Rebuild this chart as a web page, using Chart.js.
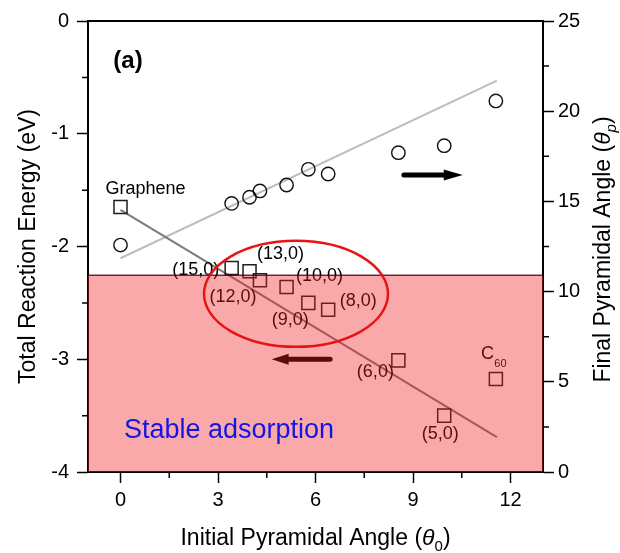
<!DOCTYPE html>
<html>
<head>
<meta charset="utf-8">
<script src="https://cdn.jsdelivr.net/npm/chart.js@4.4.1/dist/chart.umd.min.js"></script>
<style>
  html, body { margin: 0; padding: 0; background: #fff; }
  #wrap { width: 620px; height: 553px; }
</style>
</head>
<body>
<div id="wrap"><canvas id="chart" width="620" height="553"></canvas></div>
<script>
// Systems studied: graphene, zigzag (n,0) nanotubes and C60
const systems = ['Graphene', '(15,0)', '(13,0)', '(12,0)', '(10,0)', '(9,0)', '(8,0)', '(6,0)', '(5,0)', 'C60'];
// Initial pyramidal angle of the carbon site (degrees)
const initialAngle = [0, 3.42, 3.97, 4.29, 5.11, 5.78, 6.39, 8.55, 9.96, 11.55];
// Total reaction energy (eV), left axis
const reactionEnergy = [-1.65, -2.19, -2.22, -2.30, -2.36, -2.50, -2.56, -3.01, -3.50, -3.175];
// Final pyramidal angle after adsorption (degrees), right axis
const finalAngle = [12.58, 14.89, 15.23, 15.58, 15.91, 16.78, 16.52, 17.70, 18.09, 20.57];

// Linear fits (end points)
const fitRange = [0, 11.58];
const energyFit = [-1.676, -3.69];
const angleFit = [11.85, 21.7];

// Axis ticks
const xTicks = [0, 3, 6, 9, 12];
const xMinorTicks = [1.5, 4.5, 7.5, 10.5];
const energyTicks = [-4, -3, -2, -1, 0];
const energyMinorTicks = [-3.5, -2.5, -1.5, -0.5];
const angleTicks = [0, 5, 10, 15, 20, 25];
const angleMinorTicks = [2.5, 7.5, 12.5, 17.5, 22.5];

// Energy below which adsorption is stable (eV)
const stableLimit = -2.25;

const FONT = "'Liberation Sans', Arial, Helvetica, sans-serif";
Chart.defaults.font.family = FONT;
Chart.defaults.color = '#000';

const toXY = (xs, ys) => xs.map((v, i) => ({ x: v, y: ys[i] }));

// label offsets in px from each square marker
const labelOffsets = {
  'Graphene': [25, -18], '(15,0)': [-36, 2], '(13,0)': [31, -17], '(12,0)': [-27, 17],
  '(10,0)': [33, -11], '(9,0)': [-18, 17], '(8,0)': [30, -9], '(6,0)': [-23, 12], '(5,0)': [-4, 18]
};

function arrow(ctx, x0, y0, x1, color, shaft, headLen, headHalf) {
  const dir = Math.sign(x1 - x0);
  ctx.strokeStyle = color; ctx.fillStyle = color;
  ctx.lineWidth = shaft; ctx.lineCap = 'round';
  ctx.beginPath(); ctx.moveTo(x0, y0); ctx.lineTo(x1 - dir * headLen, y0); ctx.stroke();
  ctx.beginPath();
  ctx.moveTo(x1, y0);
  ctx.lineTo(x1 - dir * headLen, y0 - headHalf);
  ctx.lineTo(x1 - dir * headLen, y0 + headHalf);
  ctx.closePath(); ctx.fill();
}

function richText(ctx, parts, cx, cy, rot) {
  ctx.save();
  ctx.translate(cx, cy); ctx.rotate(rot);
  ctx.textAlign = 'left'; ctx.textBaseline = 'alphabetic'; ctx.fillStyle = '#000';
  let w = 0;
  parts.forEach(p => { ctx.font = p.font; p.w = ctx.measureText(p.t).width; w += p.w; });
  let x = -w / 2;
  parts.forEach(p => { ctx.font = p.font; ctx.fillText(p.t, x, 8 + (p.dy || 0)); x += p.w; });
  ctx.restore();
}

const annotations = {
  id: 'annotations',
  afterDatasetsDraw(chart) {
    const { ctx, chartArea: a, scales: { x, y, y2 } } = chart;
    ctx.save();
    // point labels
    ctx.fillStyle = '#000';
    ctx.font = '18px ' + FONT;
    ctx.textAlign = 'center'; ctx.textBaseline = 'middle';
    systems.forEach((name, i) => {
      const px = x.getPixelForValue(initialAngle[i]);
      const py = y.getPixelForValue(reactionEnergy[i]);
      if (name === 'C60') {
        ctx.textAlign = 'left'; ctx.textBaseline = 'alphabetic';
        ctx.font = '18px ' + FONT;
        const cw = ctx.measureText('C').width;
        ctx.fillText('C', px - 15, py - 19.5);
        ctx.font = '11px ' + FONT;
        ctx.fillText('60', px - 15 + cw + 0.5, py - 11.5);
        ctx.textAlign = 'center'; ctx.textBaseline = 'middle';
        ctx.font = '18px ' + FONT;
      } else {
        const o = labelOffsets[name];
        ctx.fillText(name, px + o[0], py + o[1]);
      }
    });
    // direction arrows: circles -> right axis, squares -> left axis
    arrow(ctx, x.getPixelForValue(8.72), y2.getPixelForValue(16.46), x.getPixelForValue(10.53), '#000', 5, 19, 5.5);
    arrow(ctx, x.getPixelForValue(6.45), y.getPixelForValue(-3.0), x.getPixelForValue(4.65), '#000', 5, 17, 5.5);

    // stable adsorption region
    const top = y.getPixelForValue(stableLimit);
    ctx.fillStyle = 'rgba(240,30,30,0.38)';
    ctx.fillRect(a.left, top, a.right - a.left, a.bottom - top);
    ctx.strokeStyle = '#000'; ctx.lineWidth = 1;
    ctx.beginPath(); ctx.moveTo(a.left, top + 0.5); ctx.lineTo(a.right, top + 0.5); ctx.stroke();

    // highlighted group of nanotubes
    const cx = x.getPixelForValue(5.4), cy = y.getPixelForValue(-2.42);
    const rx = x.getPixelForValue(5.4 + 2.83) - cx, ry = y.getPixelForValue(-2.42 - 0.47) - cy;
    ctx.strokeStyle = '#e61414'; ctx.lineWidth = 2.5;
    ctx.beginPath(); ctx.ellipse(cx, cy, rx, ry, 0, 0, Math.PI * 2); ctx.stroke();

    ctx.fillStyle = '#1414e6';
    ctx.font = '27px ' + FONT;
    ctx.textAlign = 'center'; ctx.textBaseline = 'middle';
    ctx.fillText('Stable adsorption', x.getPixelForValue(3.34), y.getPixelForValue(-3.63));

    ctx.fillStyle = '#000';
    ctx.font = 'bold 24px ' + FONT;
    ctx.fillText('(a)', a.left + 40, a.top + 40);
    ctx.restore();
  },
  afterDraw(chart) {
    const { ctx, chartArea: a, scales: { x, y, y2 } } = chart;
    ctx.save();
    ctx.strokeStyle = '#000';
    ctx.lineWidth = 2;
    ctx.beginPath(); ctx.moveTo(a.left - 1, a.top); ctx.lineTo(a.right + 1, a.top); ctx.stroke();
    ctx.lineWidth = 1.5;
    ctx.beginPath();
    xMinorTicks.forEach(v => { const p = x.getPixelForValue(v); ctx.moveTo(p, a.bottom); ctx.lineTo(p, a.bottom + 6); });
    energyMinorTicks.forEach(v => { const p = y.getPixelForValue(v); ctx.moveTo(a.left - 6, p); ctx.lineTo(a.left, p); });
    angleMinorTicks.forEach(v => { const p = y2.getPixelForValue(v); ctx.moveTo(a.right, p); ctx.lineTo(a.right + 6, p); });
    ctx.stroke();

    const T = '23px ' + FONT, TI = 'italic 23px ' + FONT, S = '15px ' + FONT, SI = 'italic 15px ' + FONT;
    richText(ctx, [{ t: 'Initial Pyramidal Angle (', font: T }, { t: 'θ', font: TI }, { t: '0', font: S, dy: 6 }, { t: ')', font: T }],
      (a.left + a.right) / 2, a.bottom + 65, 0);
    richText(ctx, [{ t: 'Total Reaction Energy (eV)', font: T }], 27, (a.top + a.bottom) / 2, -Math.PI / 2);
    richText(ctx, [{ t: 'Final Pyramidal Angle (', font: T }, { t: 'θ', font: TI }, { t: 'p', font: SI, dy: 6 }, { t: ')', font: T }],
      602, (a.top + a.bottom) / 2 + 3, -Math.PI / 2);
    ctx.restore();
  }
};

const axisStyle = {
  z: 1,
  grid: { display: true, drawOnChartArea: false, drawTicks: true, tickLength: 11, tickWidth: 1.5, tickColor: '#000' },
  border: { display: true, color: '#000', width: 2 }
};

new Chart(document.getElementById('chart'), {
  type: 'scatter',
  data: {
    datasets: [
      { data: toXY(fitRange, energyFit), showLine: true, borderColor: '#7a7a7a', borderWidth: 2, pointRadius: 0, yAxisID: 'y', order: 3 },
      { data: toXY(fitRange, angleFit), showLine: true, borderColor: '#bdbdbd', borderWidth: 2, pointRadius: 0, yAxisID: 'y2', order: 3 },
      { label: 'Total reaction energy', data: toXY(initialAngle, reactionEnergy), pointStyle: 'rect', pointRadius: 9.2,
        borderColor: '#1e1e1e', borderWidth: 1.5, backgroundColor: 'rgba(0,0,0,0)', yAxisID: 'y', order: 1 },
      { label: 'Final pyramidal angle', data: toXY(initialAngle, finalAngle), pointStyle: 'circle', pointRadius: 6.7,
        borderColor: '#111', borderWidth: 1.4, backgroundColor: 'rgba(0,0,0,0)', yAxisID: 'y2', order: 1 }
    ]
  },
  options: {
    responsive: false,
    animation: false,
    devicePixelRatio: 1,
    layout: { padding: { top: 21, left: 0, right: 0, bottom: 0 } },
    plugins: { legend: { display: false }, tooltip: { enabled: false } },
    scales: {
      x: Object.assign({}, axisStyle, {
        type: 'linear', position: 'bottom', min: -1, max: 13,
        afterBuildTicks: s => { s.ticks = xTicks.map(v => ({ value: v })); },
        afterFit: s => { s.height = 81; },
        ticks: { color: '#000', font: { size: 20 }, padding: 5, maxRotation: 0, autoSkip: false, callback: v => String(v) }
      }),
      y: Object.assign({}, axisStyle, {
        type: 'linear', position: 'left', min: -4, max: 0,
        afterBuildTicks: s => { s.ticks = energyTicks.map(v => ({ value: v })); },
        afterFit: s => { s.width = 88; },
        ticks: { color: '#000', font: { size: 20 }, padding: 8, autoSkip: false, callback: v => String(v) }
      }),
      y2: Object.assign({}, axisStyle, {
        type: 'linear', position: 'right', min: 0, max: 25,
        afterBuildTicks: s => { s.ticks = angleTicks.map(v => ({ value: v })); },
        afterFit: s => { s.width = 77; },
        ticks: { color: '#000', font: { size: 20 }, padding: 4, autoSkip: false, callback: v => String(v) }
      })
    }
  },
  plugins: [annotations]
});
</script>
</body>
</html>
